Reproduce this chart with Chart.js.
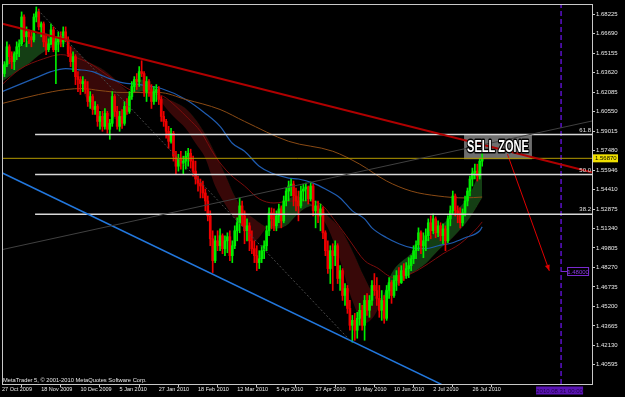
<!DOCTYPE html>
<html><head><meta charset="utf-8">
<style>html,body{margin:0;padding:0;background:#000;overflow:hidden}canvas{display:block}</style>
<script src="https://cdn.jsdelivr.net/npm/chart.js@4/dist/chart.umd.min.js"></script>
</head><body>
<canvas id="c" width="625" height="397"></canvas>
<script>
// ---- GBPUSD daily candles (index 0 = 27 Oct 2009) ----
const openP = [1.6386,1.6355,1.6425,1.6566,1.6488,1.6449,1.6511,1.6566,1.6590,1.6801,
1.6645,1.6684,1.6645,1.6621,1.6801,1.6841,1.6723,1.6747,1.6605,1.6543,
1.6590,1.6699,1.6543,1.6605,1.6645,1.6605,1.6684,1.6621,1.6511,1.6449,
1.6488,1.6331,1.6308,1.6276,1.6292,1.6229,1.6135,1.6174,1.6072,1.6096,
1.5978,1.6017,1.5939,1.6041,1.5916,1.5963,1.6174,1.6057,1.5939,1.6017,
1.5963,1.6096,1.6057,1.6174,1.6253,1.6308,1.6292,1.6370,1.6355,1.6213,
1.6292,1.6229,1.6135,1.6213,1.6229,1.6151,1.6017,1.5978,1.5900,1.5821,
1.5884,1.5704,1.5625,1.5680,1.5649,1.5665,1.5704,1.5727,1.5665,1.5586,
1.5524,1.5492,1.5469,1.5414,1.5351,1.5233,1.5053,1.4881,1.5037,1.4998,
1.5077,1.4975,1.5037,1.5069,1.4920,1.4998,1.5116,1.5179,1.5312,1.5233,
1.5116,1.5155,1.5037,1.4975,1.4920,1.4865,1.4896,1.4959,1.4998,1.5116,
1.5257,1.5210,1.5155,1.5233,1.5288,1.5194,1.5351,1.5429,1.5469,1.5484,
1.5390,1.5351,1.5312,1.5429,1.5445,1.5461,1.5367,1.5469,1.5273,1.5312,
1.5233,1.5288,1.5100,1.4959,1.4818,1.4959,1.4920,1.4998,1.4740,1.4802,
1.4606,1.4661,1.4504,1.4371,1.4410,1.4332,1.4426,1.4489,1.4371,1.4567,
1.4489,1.4567,1.4685,1.4645,1.4583,1.4489,1.4567,1.4426,1.4645,1.4708,
1.4606,1.4724,1.4763,1.4708,1.4802,1.4763,1.4818,1.4841,1.4896,1.4959,
1.5006,1.5100,1.4998,1.5037,1.5077,1.5179,1.5116,1.5210,1.5100,1.5155,
1.5077,1.5131,1.5037,1.5210,1.5273,1.5390,1.5273,1.5257,1.5179,1.5257,
1.5351,1.5429,1.5524,1.5571,1.5586,1.5547,1.5665];
const highP = [1.6410,1.6449,1.6605,1.6582,1.6527,1.6527,1.6605,1.6621,1.6841,1.6817,
1.6723,1.6699,1.6684,1.6825,1.6880,1.6864,1.6762,1.6762,1.6660,1.6629,
1.6747,1.6723,1.6645,1.6684,1.6684,1.6723,1.6723,1.6645,1.6566,1.6527,
1.6504,1.6370,1.6331,1.6331,1.6308,1.6292,1.6213,1.6190,1.6135,1.6111,
1.6057,1.6057,1.6080,1.6057,1.5994,1.6213,1.6190,1.6096,1.6057,1.6072,
1.6135,1.6158,1.6213,1.6292,1.6331,1.6355,1.6410,1.6456,1.6370,1.6331,
1.6308,1.6268,1.6253,1.6268,1.6253,1.6174,1.6057,1.5994,1.5939,1.5923,
1.5900,1.5743,1.5719,1.5743,1.5704,1.5743,1.5766,1.5759,1.5704,1.5665,
1.5547,1.5524,1.5508,1.5445,1.5390,1.5273,1.5116,1.5077,1.5116,1.5131,
1.5092,1.5077,1.5100,1.5116,1.5037,1.5155,1.5218,1.5375,1.5351,1.5273,
1.5210,1.5179,1.5116,1.5037,1.4998,1.4959,1.4998,1.5037,1.5155,1.5296,
1.5296,1.5288,1.5273,1.5327,1.5312,1.5390,1.5453,1.5508,1.5524,1.5508,
1.5453,1.5429,1.5469,1.5484,1.5492,1.5469,1.5500,1.5484,1.5351,1.5351,
1.5327,1.5304,1.5116,1.5037,1.4998,1.5014,1.5037,1.5014,1.4841,1.4818,
1.4700,1.4685,1.4567,1.4449,1.4465,1.4473,1.4544,1.4528,1.4606,1.4622,
1.4606,1.4724,1.4779,1.4747,1.4685,1.4645,1.4606,1.4685,1.4747,1.4724,
1.4763,1.4802,1.4826,1.4841,1.4857,1.4865,1.4904,1.4920,1.4998,1.5037,
1.5139,1.5116,1.5100,1.5131,1.5210,1.5233,1.5249,1.5226,1.5194,1.5179,
1.5171,1.5155,1.5233,1.5312,1.5429,1.5406,1.5312,1.5296,1.5288,1.5390,
1.5453,1.5547,1.5610,1.5641,1.5641,1.5688,1.5743];
const lowP = [1.6308,1.6331,1.6410,1.6433,1.6394,1.6386,1.6464,1.6488,1.6574,1.6605,
1.6566,1.6590,1.6566,1.6605,1.6762,1.6699,1.6645,1.6566,1.6504,1.6527,
1.6582,1.6527,1.6276,1.6527,1.6566,1.6566,1.6605,1.6488,1.6410,1.6370,
1.6268,1.6213,1.6190,1.6213,1.6198,1.6096,1.6080,1.6033,1.6033,1.5939,
1.5916,1.5900,1.5916,1.5884,1.5837,1.5939,1.6017,1.5916,1.5900,1.5923,
1.5947,1.6033,1.6041,1.6151,1.6213,1.6229,1.6253,1.6331,1.6174,1.6135,
1.6174,1.6080,1.6111,1.6135,1.6111,1.5978,1.5939,1.5845,1.5766,1.5806,
1.5665,1.5563,1.5586,1.5602,1.5563,1.5602,1.5625,1.5610,1.5547,1.5484,
1.5429,1.5375,1.5375,1.5273,1.5194,1.4998,1.4787,1.4865,1.4959,1.4959,
1.4935,1.4920,1.4943,1.4881,1.4865,1.4975,1.5037,1.5100,1.5155,1.5014,
1.5037,1.4959,1.4935,1.4865,1.4802,1.4818,1.4865,1.4896,1.4959,1.5077,
1.5131,1.5116,1.5116,1.5179,1.5139,1.5179,1.5312,1.5351,1.5390,1.5312,
1.5273,1.5194,1.5296,1.5351,1.5351,1.5327,1.5351,1.5233,1.5139,1.5179,
1.5116,1.5053,1.4920,1.4779,1.4700,1.4645,1.4841,1.4700,1.4645,1.4567,
1.4528,1.4465,1.4332,1.4238,1.4253,1.4269,1.4371,1.4332,1.4253,1.4449,
1.4434,1.4528,1.4606,1.4528,1.4434,1.4410,1.4387,1.4410,1.4583,1.4544,
1.4591,1.4645,1.4685,1.4700,1.4724,1.4740,1.4747,1.4802,1.4857,1.4896,
1.4959,1.4935,1.4904,1.4959,1.5037,1.5053,1.5092,1.5061,1.5069,1.5037,
1.5014,1.4959,1.5022,1.5155,1.5249,1.5233,1.5179,1.5139,1.5155,1.5233,
1.5312,1.5390,1.5469,1.5524,1.5508,1.5524,1.5625];
const closeP = [1.6355,1.6425,1.6566,1.6488,1.6449,1.6511,1.6566,1.6590,1.6801,1.6645,
1.6684,1.6645,1.6621,1.6801,1.6841,1.6723,1.6747,1.6605,1.6543,1.6590,
1.6699,1.6543,1.6605,1.6645,1.6605,1.6684,1.6621,1.6511,1.6449,1.6488,
1.6331,1.6308,1.6276,1.6292,1.6229,1.6135,1.6174,1.6072,1.6096,1.5978,
1.6017,1.5939,1.6041,1.5916,1.5963,1.6174,1.6057,1.5939,1.6017,1.5963,
1.6096,1.6057,1.6174,1.6253,1.6308,1.6292,1.6370,1.6355,1.6213,1.6292,
1.6229,1.6135,1.6213,1.6229,1.6151,1.6017,1.5978,1.5900,1.5821,1.5884,
1.5704,1.5625,1.5680,1.5649,1.5665,1.5704,1.5727,1.5665,1.5586,1.5524,
1.5492,1.5469,1.5414,1.5351,1.5233,1.5053,1.4881,1.5037,1.4998,1.5077,
1.4975,1.5037,1.5069,1.4920,1.4998,1.5116,1.5179,1.5312,1.5233,1.5116,
1.5155,1.5037,1.4975,1.4920,1.4865,1.4896,1.4959,1.4998,1.5116,1.5257,
1.5210,1.5155,1.5233,1.5288,1.5194,1.5351,1.5429,1.5469,1.5484,1.5390,
1.5351,1.5312,1.5429,1.5445,1.5461,1.5367,1.5469,1.5273,1.5312,1.5233,
1.5288,1.5100,1.4959,1.4818,1.4959,1.4920,1.4998,1.4740,1.4802,1.4606,
1.4661,1.4504,1.4371,1.4410,1.4332,1.4426,1.4489,1.4371,1.4567,1.4489,
1.4567,1.4685,1.4645,1.4583,1.4489,1.4567,1.4426,1.4645,1.4708,1.4606,
1.4724,1.4763,1.4708,1.4802,1.4763,1.4818,1.4841,1.4896,1.4959,1.5006,
1.5100,1.4998,1.5037,1.5077,1.5179,1.5116,1.5210,1.5100,1.5155,1.5077,
1.5131,1.5037,1.5210,1.5273,1.5390,1.5273,1.5257,1.5179,1.5257,1.5351,
1.5429,1.5524,1.5571,1.5586,1.5547,1.5665,1.5687];

// ---- indicator lines (read at sample bars) ----
const bandIdx  = [0,5,11,16,21,26,30,34,40,44,50,53,57,61,64,65,70,75,79,83,87,91,95,99,103,107,111,116,120,124,127,130,133,138,143,148,152,155,159,166,173,178,184,191,196];
const bandFast = [1.6410,1.6511,1.6621,1.6684,1.6645,1.6590,1.6449,1.6174,1.6072,1.6017,1.5978,1.6190,1.6308,1.6260,1.6174,1.6135,1.6017,1.5923,1.5806,1.5688,1.5469,1.5327,1.5210,1.5139,1.5037,1.5116,1.5233,1.5351,1.5390,1.5351,1.5312,1.5233,1.5139,1.4881,1.4567,1.4387,1.4449,1.4567,1.4779,1.4920,1.5037,1.5131,1.5249,1.5406,1.5641];
const bandSlow = [1.6292,1.6355,1.6433,1.6511,1.6566,1.6590,1.6543,1.6464,1.6402,1.6347,1.6237,1.6198,1.6213,1.6229,1.6198,1.6174,1.6135,1.6080,1.5994,1.5876,1.5727,1.5563,1.5390,1.5273,1.5210,1.5155,1.5131,1.5155,1.5233,1.5296,1.5312,1.5296,1.5233,1.5139,1.4959,1.4747,1.4606,1.4567,1.4645,1.4763,1.4857,1.4959,1.5061,1.5218,1.5375];
const blueIdx  = [0,15,20,26,31,37,40,44,49,56,65,75,83,89,94,99,105,110,117,121,127,132,138,143,148,151,157,162,167,173,178,184,189,195,196];
const blueMA   = [1.6213,1.6331,1.6370,1.6394,1.6386,1.6370,1.6347,1.6315,1.6284,1.6268,1.6237,1.6151,1.6041,1.5939,1.5806,1.5743,1.5625,1.5571,1.5531,1.5524,1.5492,1.5445,1.5375,1.5273,1.5210,1.5139,1.5061,1.5014,1.4983,1.4975,1.4998,1.5022,1.5061,1.5116,1.5147];
const redIdx   = [0,7,17,24,29,36,42,48,54,61,66,71,76,81,87,93,99,105,111,118,124,130,136,142,148,153,160,167,174,180,187,194,196];
const redMA    = [1.6268,1.6386,1.6472,1.6504,1.6488,1.6433,1.6355,1.6276,1.6213,1.6198,1.6174,1.6096,1.6002,1.5900,1.5704,1.5563,1.5469,1.5367,1.5335,1.5351,1.5351,1.5327,1.5194,1.5037,1.4881,1.4826,1.4747,1.4779,1.4857,1.4935,1.5014,1.5139,1.5186];
const brownIdx = [0,15,26,33,40,49,64,75,89,99,117,135,146,157,167,178,189,196];
const brownMA  = [1.6119,1.6190,1.6229,1.6237,1.6221,1.6206,1.6206,1.6151,1.6072,1.5978,1.5821,1.5743,1.5641,1.5508,1.5429,1.5390,1.5375,1.5382];

// ---- chart objects ----
const redTrendX = [0.16, 240.8],  redTrendY = [1.6747, 1.5578];
const blueTrendX = [0.16, 179.4], blueTrendY = [1.5571, 1.3905];
const grayDiagX = [14.7, 142.0],  grayDiagY = [1.6856, 1.4253];
const grayRiseX = [0.16, 240.8],  grayRiseY = [1.4968, 1.5981];
const fibLevels = [1.5874, 1.5560, 1.5247];
const fibNames  = ['61.8', '50.0', '38.2'];
const fibStartX = 13.5;
const bidPrice = 1.5687, bidText = '1.56870';
const vLineX = 228.2, vLineText = '2010.08.31 00:00';
const arrowX = [206.3, 223.4], arrowY = [1.5720, 1.4800], arrowText = '1.48000';
const sellZone = {x0: 188.6, x1: 216.3, y0: 1.5876, y1: 1.5680, text: 'SELL ZONE'};

// ---- axes ----
const xTickIdx = [0,16,32,48,64,80,96,112,128,144,160,176,192];
const xTickLabels = ['27 Oct 2009','18 Nov 2009','10 Dec 2009','5 Jan 2010','27 Jan 2010','18 Feb 2010','12 Mar 2010','5 Apr 2010','27 Apr 2010','19 May 2010','10 Jun 2010','2 Jul 2010','26 Jul 2010'];
const yTickLabels = ['1.68225','1.66690','1.65155','1.63620','1.62085','1.60550','1.59015','1.57480','1.55946','1.54410','1.52875','1.51340','1.49805','1.48270','1.46735','1.45200','1.43665','1.42130','1.40595'];
const Y_MIN = 1.39084, Y_MAX = 1.69033, X_MIN = 0, X_MAX = 240.82;

const pts = (xs, ys) => xs.map((x, i) => ({x, y: ys[i]}));
const FONT = "'Liberation Sans', Arial, sans-serif";
const up = i => closeP[i] >= openP[i];
const candleCol = c => up(c.dataIndex) ? '#00ee00' : '#ee0000';

function line(data, color, width, extra) {
  return Object.assign({type: 'line', data, borderColor: color, borderWidth: width, pointRadius: 0, pointHoverRadius: 0, fill: false, order: 1, tension: 0}, extra || {});
}
const smooth = {cubicInterpolationMode: 'monotone', order: 10};

const datasets = [
  line(pts(bandIdx, bandFast), 'rgba(0,0,0,0)', 1, {cubicInterpolationMode: 'monotone', order: 20,
       fill: {target: '+1', above: 'rgb(20,62,20)', below: 'rgb(56,8,8)'}}),
  line(pts(bandIdx, bandSlow), 'rgba(0,0,0,0)', 1, {cubicInterpolationMode: 'monotone', order: 20}),
  line(pts(brownIdx, brownMA), '#8a4a14', 1, smooth),
  line(pts(blueIdx, blueMA), '#1f5cb0', 1.2, smooth),
  line(pts(redIdx, redMA), '#7c0c0c', 1, smooth),
  {type: 'bar', data: highP.map((h, i) => ({x: i, y: [lowP[i], h]})), backgroundColor: candleCol,
   barThickness: 1, grouped: false, borderWidth: 0, order: 6},
  {type: 'bar', data: openP.map((o, i) => ({x: i, y: [o, closeP[i]]})), backgroundColor: candleCol,
   barThickness: 2, grouped: false, borderWidth: 0, order: 5, minBarLength: 1},
  line(pts(grayDiagX, grayDiagY), '#4a4a4a', 1, {borderDash: [2, 2]}),
  line(pts(grayRiseX, grayRiseY), '#404040', 1),
  line(pts(blueTrendX, blueTrendY), '#2277dd', 1.5),
  line(pts(redTrendX, redTrendY), '#b00000', 2),
  line(pts([0.16, X_MAX], [bidPrice, bidPrice]), '#b49a00', 1),
  ...fibLevels.map(v => line(pts([fibStartX, X_MAX], [v, v]), '#d8d8d8', 1.5)),
  line(pts([vLineX, vLineX], [Y_MIN, Y_MAX]), '#5a10c8', 1.5, {borderDash: [5, 3]}),
  line(pts(arrowX, arrowY), '#e00000', 1)
];

const overlay = {
  id: 'overlay',
  beforeDatasetsDraw(chart) {
    const {ctx, scales: {x, y}} = chart;
    const x0 = x.getPixelForValue(sellZone.x0), x1 = x.getPixelForValue(sellZone.x1);
    const y0 = y.getPixelForValue(sellZone.y0), y1 = y.getPixelForValue(sellZone.y1);
    ctx.save();
    ctx.fillStyle = '#6e6e6e';
    ctx.fillRect(x0, y0, x1 - x0, y1 - y0);
    ctx.restore();
  },
  afterDatasetsDraw(chart) {
    const {ctx, chartArea: a, scales: {x, y}} = chart;
    ctx.save();
    const x0 = x.getPixelForValue(sellZone.x0), x1 = x.getPixelForValue(sellZone.x1);
    const y0 = y.getPixelForValue(sellZone.y0), y1 = y.getPixelForValue(sellZone.y1);
    ctx.font = 'bold 17px ' + FONT;
    const w = ctx.measureText(sellZone.text).width;
    ctx.translate((x0 + x1) / 2, (y0 + y1) / 2 + 1);
    ctx.scale((x1 - x0 - 6) / w, 1);
    ctx.textAlign = 'center'; ctx.textBaseline = 'middle';
    ctx.lineJoin = 'round'; ctx.lineWidth = 3; ctx.strokeStyle = '#000';
    ctx.strokeText(sellZone.text, 0, 0);
    ctx.fillStyle = '#fff';
    ctx.fillText(sellZone.text, 0, 0);
    ctx.restore();

    ctx.save();
    const ax0 = x.getPixelForValue(arrowX[0]), ay0 = y.getPixelForValue(arrowY[0]);
    const ax1 = x.getPixelForValue(arrowX[1]), ay1 = y.getPixelForValue(arrowY[1]);
    const ang = Math.atan2(ay1 - ay0, ax1 - ax0);
    ctx.fillStyle = '#e00000';
    ctx.beginPath();
    ctx.moveTo(ax1, ay1);
    ctx.lineTo(ax1 - 6 * Math.cos(ang) + 2.5 * Math.sin(ang), ay1 - 6 * Math.sin(ang) - 2.5 * Math.cos(ang));
    ctx.lineTo(ax1 - 6 * Math.cos(ang) - 2.5 * Math.sin(ang), ay1 - 6 * Math.sin(ang) + 2.5 * Math.cos(ang));
    ctx.closePath(); ctx.fill();

    ctx.font = '6px ' + FONT;
    ctx.fillStyle = '#e0e0e0'; ctx.textAlign = 'right'; ctx.textBaseline = 'middle';
    fibLevels.forEach((v, i) => ctx.fillText(fibNames[i], a.right - 1, y.getPixelForValue(v) - 4.5));

    const vx = x.getPixelForValue(vLineX), py = Math.round(y.getPixelForValue(arrowY[1])) + 0.5;
    ctx.strokeStyle = '#7a2ad0'; ctx.lineWidth = 1;
    ctx.beginPath(); ctx.moveTo(vx, py); ctx.lineTo(vx + 6, py); ctx.stroke();
    ctx.fillStyle = '#000'; ctx.fillRect(vx + 6.5, py - 4, 21, 8);
    ctx.strokeRect(vx + 6.5, py - 4, 21, 8);
    ctx.fillStyle = '#8a3ae0'; ctx.textAlign = 'center';
    ctx.fillText(arrowText, vx + 17, py + 0.5);

    ctx.font = '5.75px ' + FONT;
    ctx.fillStyle = '#e8e8e8'; ctx.textAlign = 'left';
    ctx.fillText('MetaTrader 5, \u00a9 2001-2010 MetaQuotes Software Corp.', a.left + 1, a.bottom - 4);
    ctx.restore();
  },
  afterDraw(chart) {
    const {ctx, chartArea: a, scales: {x, y}} = chart;
    ctx.save();
    ctx.strokeStyle = '#c8c8c8'; ctx.lineWidth = 1;
    ctx.strokeRect(a.left + 0.5, a.top + 0.5, a.right - a.left, a.bottom - a.top);
    const by = y.getPixelForValue(bidPrice);
    ctx.fillStyle = '#f0e000';
    ctx.fillRect(a.right + 1, by - 4, 25, 8);
    ctx.fillStyle = '#000'; ctx.font = '6px ' + FONT;
    ctx.textAlign = 'left'; ctx.textBaseline = 'middle';
    ctx.fillText(bidText, a.right + 3, by + 0.5);
    const vx = x.getPixelForValue(vLineX);
    ctx.fillStyle = '#5a14b4';
    ctx.fillRect(vx - 25, a.bottom + 2.5, 47, 8);
    ctx.fillStyle = '#22004a'; ctx.textAlign = 'center';
    ctx.fillText(vLineText, vx - 1.5, a.bottom + 7);
    ctx.restore();
  }
};

new Chart(document.getElementById('c'), {
  type: 'bar',
  data: {datasets},
  options: {
    responsive: false, animation: false, events: [],
    layout: {padding: {left: 2, top: 2, right: 0, bottom: 0}},
    plugins: {legend: {display: false}, tooltip: {enabled: false}},
    scales: {
      x: {
        type: 'linear', min: X_MIN, max: X_MAX, offset: false,
        grid: {display: true, drawOnChartArea: false, drawTicks: true, tickLength: 3, color: '#c8c8c8'},
        border: {display: false},
        afterBuildTicks: s => { s.ticks = xTickIdx.map(v => ({value: v})); },
        afterFit: s => { s.height = 13; },
        ticks: {autoSkip: false, maxRotation: 0, align: 'start', padding: 0, color: '#e8e8e8',
                font: {family: FONT, size: 5.5, lineHeight: 1}, callback: (v, i) => xTickLabels[i]}
      },
      y: {
        type: 'linear', position: 'right', min: Y_MIN, max: Y_MAX,
        grid: {display: true, drawOnChartArea: false, drawTicks: true, tickLength: 3, color: '#c8c8c8'},
        border: {display: false},
        afterBuildTicks: s => { s.ticks = yTickLabels.map(t => ({value: parseFloat(t)})); },
        afterFit: s => { s.width = 33; },
        ticks: {autoSkip: false, padding: 1, color: '#e8e8e8',
                font: {family: FONT, size: 6, lineHeight: 1}, callback: (v, i) => yTickLabels[i]}
      }
    }
  },
  plugins: [overlay]
});
</script>
</body></html>
